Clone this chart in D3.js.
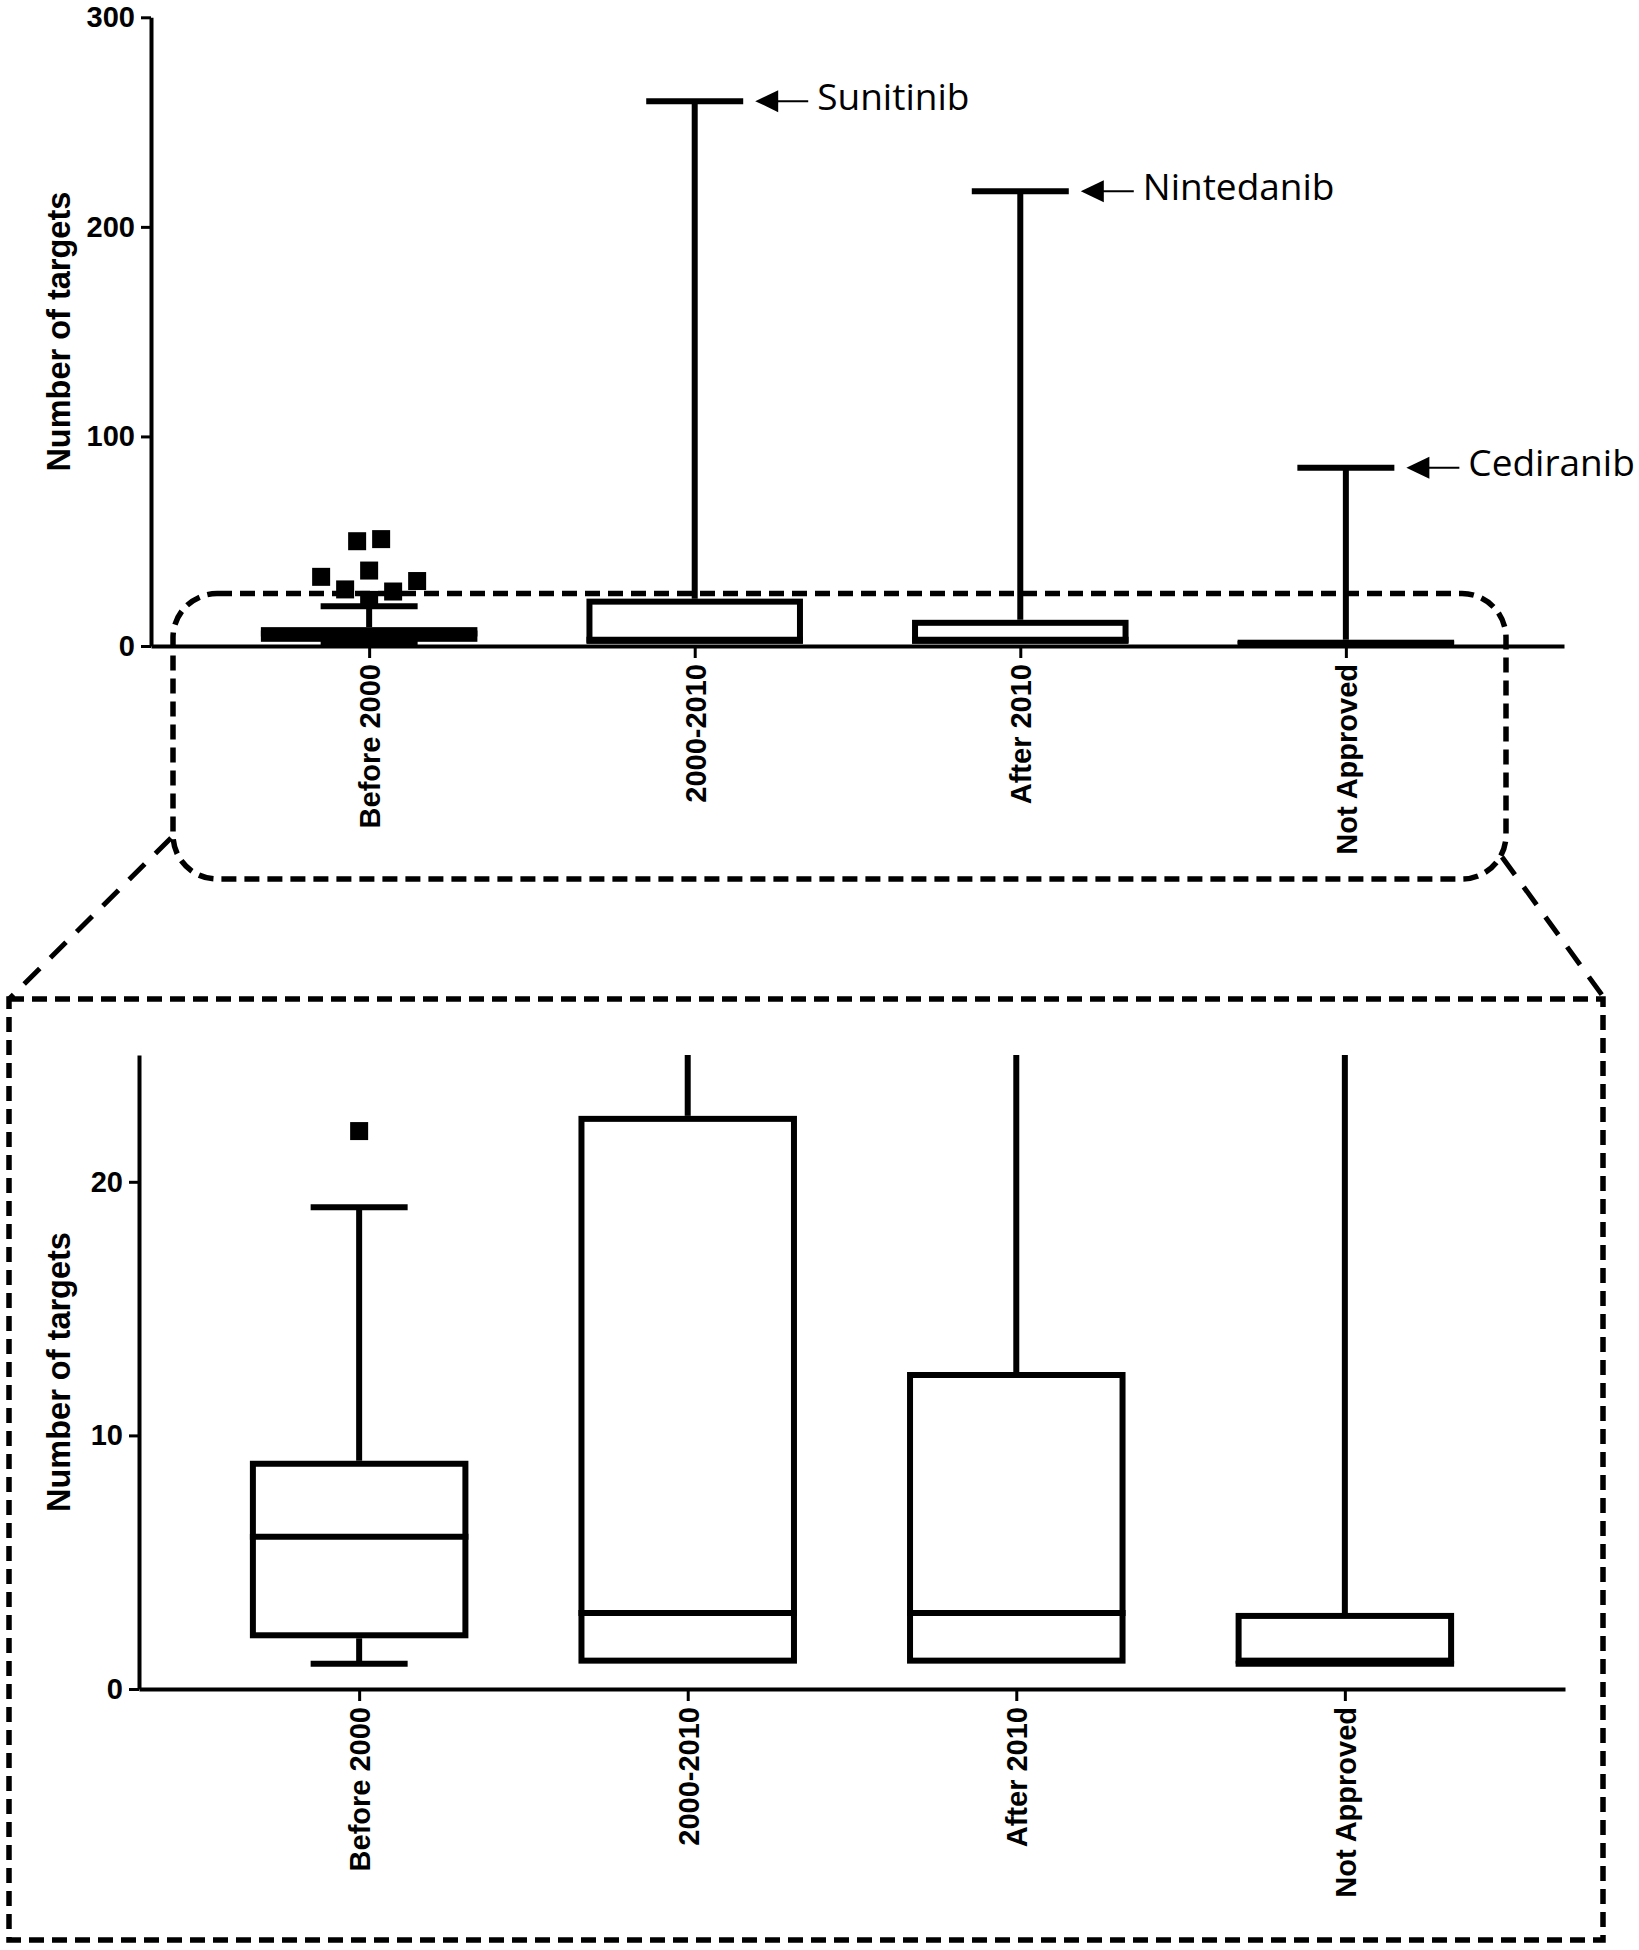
<!DOCTYPE html>
<html><head><meta charset="utf-8">
<script src="https://cdn.jsdelivr.net/npm/d3@7"></script>
<style>body{margin:0;background:#fff}svg{display:block}</style>
</head><body>
<svg id="chart" width="1639" height="1950"></svg>
<script>
// ---------------- data ----------------
const categories   = ["Before 2000", "2000-2010", "After 2010", "Not Approved"];
const whiskerLow   = [1, 1, 1, 1];
const quartile1    = [2, 1, 1, 1];
const medians      = [6, 3, 3, 1];
const quartile3    = [9, 22.6, 12.5, 3];
const whiskerHigh  = [19, 260, 217, 85];
const outlierCategory = "Before 2000";
const outlierValues   = [22, 26, 27, 31, 33, 36, 50, 51];
const topTicks  = [0, 100, 200, 300];
const zoomTicks = [0, 10, 20];
const annotationCats   = ["2000-2010", "After 2010", "Not Approved"];
const annotationLabels = ["Sunitinib", "Nintedanib", "Cediranib"];
const yTitle = "Number of targets";

// -------------- drawing ---------------
const svg = d3.select("#chart");
svg.append("rect").attr("width",1639).attr("height",1950).attr("fill","#fff");
const FONT = "'Liberation Sans', Arial, Helvetica, sans-serif";
const LW = 6, AXW = 4;

const boxes = categories.map((c,i)=>({cat:c, lo:whiskerLow[i], q1:quartile1[i], med:medians[i], q3:quartile3[i], hi:whiskerHigh[i]}));

function swarm(vals, y, size, unit){
  const pts = vals.map(v=>({v, y:y(v), dx:0})).sort((a,b)=>a.v-b.v);
  const placed = [];
  pts.forEach(p=>{
    for (let k=0;k<40;k++){
      const m = Math.ceil(k/2)*(k%2===1?1:-1);
      const dx = m*unit;
      const hit = placed.some(q=>Math.abs(q.y-p.y)<size && Math.abs(q.dx-dx)<size);
      if(!hit){p.dx=dx;break;}
    }
    placed.push(p);
  });
  let cluster=[];
  const flush=()=>{ if(cluster.length){const m=d3.mean(cluster,d=>d.dx); cluster.forEach(d=>d.dx-=m);} cluster=[]; };
  pts.forEach((p,i)=>{ if(i>0 && Math.abs(p.y-pts[i-1].y)>=size) flush(); cluster.push(p); });
  flush();
  return pts;
}

function panel(cfg, id){
  const g = svg.append("g");
  const x = d3.scalePoint().domain(categories).range([cfg.x0, cfg.x1]).padding(0.67);
  const y = d3.scaleLinear().domain(cfg.domain).range([cfg.y0, cfg.y1]);
  const bw = x.step()*0.665, capW = 97;

  const clipId = "clip"+id;
  g.append("clipPath").attr("id",clipId).append("rect")
    .attr("x",cfg.x0).attr("y",cfg.y1-4).attr("width",cfg.x1-cfg.x0).attr("height",cfg.y0-cfg.y1+8);
  const plot = g.append("g").attr("clip-path",`url(#${clipId})`);

  const dom = cfg.domain[1];
  const cy = v => y(Math.min(v, dom));
  const bg = plot.selectAll("g.box").data(boxes).join("g").attr("class","box");
  bg.append("line").attr("x1",d=>x(d.cat)).attr("x2",d=>x(d.cat))
    .attr("y1",d=>cy(d.q3)).attr("y2",d=>cy(d.hi)).attr("stroke","#000").attr("stroke-width",LW);
  bg.append("line").attr("x1",d=>x(d.cat)).attr("x2",d=>x(d.cat))
    .attr("y1",d=>cy(d.q1)).attr("y2",d=>cy(d.lo)).attr("stroke","#000").attr("stroke-width",LW);
  bg.filter(d=>d.hi<=dom).append("line").attr("x1",d=>x(d.cat)-capW/2).attr("x2",d=>x(d.cat)+capW/2)
    .attr("y1",d=>y(d.hi)).attr("y2",d=>y(d.hi)).attr("stroke","#000").attr("stroke-width",LW);
  bg.filter(d=>d.lo<d.q1).append("line").attr("x1",d=>x(d.cat)-capW/2).attr("x2",d=>x(d.cat)+capW/2)
    .attr("y1",d=>y(d.lo)).attr("y2",d=>y(d.lo)).attr("stroke","#000").attr("stroke-width",LW);
  // box: outer black, inner white (border lies inside the quartile bounds)
  bg.append("rect").attr("x",d=>x(d.cat)-bw/2).attr("width",bw)
    .attr("y",d=>cy(d.q3)).attr("height",d=>Math.max(1,cy(d.q1)-cy(d.q3))).attr("fill","#000");
  bg.filter(d=>cy(d.q1)-cy(d.q3)>2*LW).append("rect").attr("x",d=>x(d.cat)-bw/2+LW).attr("width",bw-2*LW)
    .attr("y",d=>cy(d.q3)+LW).attr("height",d=>cy(d.q1)-cy(d.q3)-2*LW).attr("fill","#fff");
  bg.append("line").attr("x1",d=>x(d.cat)-bw/2).attr("x2",d=>x(d.cat)+bw/2)
    .attr("y1",d=>cy(d.med)).attr("y2",d=>cy(d.med)).attr("stroke","#000").attr("stroke-width",LW);

  const vis = outlierValues.filter(v=>v<=dom);
  const sw = swarm(vis, y, 24, 12);
  plot.selectAll("rect.out").data(sw).join("rect").attr("class","out")
    .attr("x",d=>x(outlierCategory)+d.dx-9).attr("y",d=>d.y-9).attr("width",18).attr("height",18).attr("fill","#000");

  const ya = g.append("g").attr("transform",`translate(${cfg.x0},0)`)
    .call(d3.axisLeft(y).tickValues(cfg.ticks).tickSize(10).tickSizeOuter(0).tickPadding(6).tickFormat(d3.format("d")));
  ya.select(".domain").attr("stroke-width",AXW).attr("stroke","#000");
  ya.selectAll(".tick line").attr("stroke-width",3).attr("stroke","#000");
  ya.selectAll("text").attr("font-family",FONT).attr("font-weight","bold").attr("font-size",29).attr("fill","#000");

  const xa = g.append("g").attr("transform",`translate(0,${cfg.y0})`)
    .call(d3.axisBottom(x).tickSize(12).tickSizeOuter(0));
  xa.select(".domain").attr("stroke-width",AXW).attr("stroke","#000");
  xa.selectAll(".tick line").attr("stroke-width",3).attr("stroke","#000");
  xa.selectAll("text").attr("font-family",FONT).attr("font-weight","bold").attr("font-size",29).attr("fill","#000")
    .attr("transform","rotate(-90)").attr("text-anchor","end").attr("x",-18).attr("y",0).attr("dy","0.36em");

  g.append("text").attr("transform",`translate(${cfg.titleX},${(cfg.y0+cfg.y1)/2}) rotate(-90)`)
    .attr("text-anchor","middle").attr("dominant-baseline","central")
    .attr("font-family",FONT).attr("font-weight","bold").attr("font-size",32.5).text(yTitle);

  return {x,y,capW};
}

const topP = panel({x0:151, x1:1564, y0:646, y1:17.3, domain:[0,300], ticks:topTicks, titleX:58.6}, "t");
const botP = panel({x0:139, x1:1565, y0:1689, y1:1055, domain:[0,25], ticks:zoomTicks, titleX:58.6}, "b");

annotationCats.forEach((c,i)=>{
  const b = boxes.find(d=>d.cat===c);
  const yv = topP.y(b.hi);
  const tip = topP.x(c) + topP.capW/2 + 12;
  const a = svg.append("g");
  a.append("line").attr("x1",tip+18).attr("x2",tip+53).attr("y1",yv).attr("y2",yv).attr("stroke","#000").attr("stroke-width",2);
  a.append("path").attr("d",`M${tip},${yv}L${tip+23},${yv-11}L${tip+23},${yv+11}Z`).attr("fill","#000");
  a.append("text").attr("x",tip+62).attr("y",yv+8.5).attr("font-family","'Open Sans', 'Noto Sans', sans-serif")
    .attr("font-size",37).attr("fill","#000").text(annotationLabels[i]);
});

const zoomTop = topP.y(botP.y.domain()[1]);
const deco = svg.append("g").attr("fill","none").attr("stroke","#000");
deco.append("rect").attr("x",173).attr("y",zoomTop).attr("width",1506-173).attr("height",879-zoomTop)
  .attr("rx",44).attr("ry",44).attr("stroke-width",5.5).attr("stroke-dasharray","15,8");
deco.append("rect").attr("x",9).attr("y",999).attr("width",1603-9).attr("height",1940-999)
  .attr("stroke-width",5.5).attr("stroke-dasharray","15,8");
deco.append("line").attr("x1",171).attr("y1",838).attr("x2",9).attr("y2",999).attr("stroke-width",5).attr("stroke-dasharray","22,15");
deco.append("line").attr("x1",1502).attr("y1",857).attr("x2",1602).attr("y2",995).attr("stroke-width",5).attr("stroke-dasharray","22,15");
</script>
</body></html>
